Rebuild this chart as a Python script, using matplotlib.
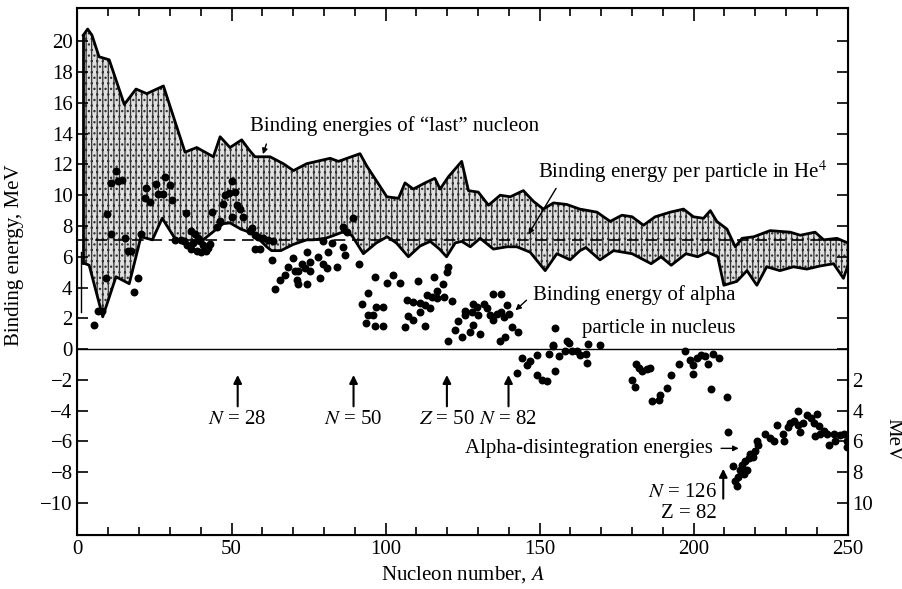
import matplotlib
matplotlib.use('Agg')
import matplotlib.pyplot as plt  # Plot stuff
from matplotlib.ticker import MultipleLocator

plt.rcParams['font.family'] = ['Liberation Serif', 'DejaVu Serif']
plt.rcParams['mathtext.fontset'] = 'stix'
plt.rcParams['hatch.linewidth'] = 0.9

# upper edge of the "last nucleon" band (A, MeV)
upper_A = [1.9, 3.3, 4.7, 7.0, 10.3, 15.2, 19.0, 22.5, 27.9, 34.9, 38.7, 44.1, 46.3, 49.5,
           53.3, 55.5, 57.6, 62.5, 66.8, 70.1, 74.4, 82.0, 84.7, 91.7, 93.9, 100.4, 104.2,
           106.3, 109.0, 112.8, 116.0, 117.7, 120.4, 124.7, 126.9, 130.1, 133.4, 137.2,
           140.5, 144.7, 148.0, 151.2, 154.5, 158.8, 163.0, 168.6, 172.9, 176.7, 180.0,
           183.7, 187.5, 192.4, 196.7, 199.9, 203.2, 205.4, 207.5, 210.8, 213.5, 215.7,
           219.5, 224.8, 231.3, 234.6, 239.4, 242.2, 246.5, 250.0]
upper_E = [20.4, 20.8, 20.4, 19.0, 18.8, 15.9, 16.9, 16.6, 17.1, 12.8, 13.1, 12.5, 13.8, 13.1,
           13.6, 13.0, 12.5, 12.5, 12.05, 11.6, 12.05, 12.4, 12.2, 12.7, 11.9, 9.9, 9.8,
           10.8, 10.4, 10.8, 11.1, 10.4, 11.2, 12.2, 10.3, 10.2, 9.35, 10.0,
           9.9, 10.3, 9.6, 9.1, 9.5, 9.4, 9.1, 8.9, 8.3, 8.7, 8.6,
           8.05, 8.6, 8.9, 9.1, 8.6, 8.5, 9.0, 8.3, 7.8, 6.65, 7.2,
           7.3, 7.7, 7.6, 7.4, 7.6, 7.1, 7.2, 6.9]

# lower edge of the band
lower_A = [1.9, 3.8, 8.2, 12.5, 16.8, 20.6, 24.3, 27.5, 31.6, 36.0, 40.0, 47.3, 49.5, 53.0,
           57.1, 61.4, 63.0, 66.0, 70.0, 74.4, 76.5, 80.4, 82.0, 86.0, 89.0, 92.8, 97.0,
           100.5, 103.5, 107.4, 111.2, 114.5, 117.5, 119.8, 122.6, 124.7, 127.5, 130.7,
           135.0, 139.4, 142.6, 146.9, 151.8, 155.6, 159.9, 163.1, 165.0, 169.6, 174.0,
           180.0, 186.2, 189.4, 192.7, 197.5, 201.3, 204.5, 207.8, 209.8, 214.0, 217.3,
           220.5, 223.7, 228.0, 232.4, 236.7, 241.0, 245.4, 248.6, 250.0]
lower_E = [5.6, 5.45, 2.1, 4.7, 4.25, 7.3, 7.1, 8.5, 7.2, 6.7, 6.97, 8.15, 8.2, 7.8,
           7.5, 6.65, 6.4, 6.4, 6.8, 7.1, 7.1, 7.2, 7.3, 7.6, 7.4, 6.2, 6.9,
           7.3, 6.9, 6.0, 6.7, 7.0, 6.5, 6.0, 6.9, 7.0, 6.65, 7.2,
           6.5, 6.65, 6.65, 6.3, 5.1, 6.2, 5.8, 6.4, 6.6, 5.8, 6.4,
           6.2, 5.55, 6.0, 5.45, 6.2, 6.0, 6.3, 6.0, 4.15, 4.4, 5.1,
           4.15, 5.35, 5.1, 5.35, 5.2, 5.4, 5.55, 4.6, 5.4]

# binding energy of alpha particle in nucleus (dots, upper part)
bind_A = [5.5, 6.6, 8.0, 9.4, 9.7, 11.0, 11.0, 12.6, 13.1, 14.4, 15.3, 16.4, 17.5, 18.4, 19.5,
          20.7, 22.3, 22.0, 23.6, 25.6, 26.1, 27.7, 28.5, 29.9, 30.8,
          31.5, 33.7, 34.5, 35.3, 35.6, 36.9, 37.0, 37.5, 38.3, 38.8, 39.1, 39.8, 40.0, 40.7,
          41.8, 42.5, 43.0,
          43.6, 45.2, 46.3, 47.3, 47.9, 49.3, 50.1, 51.1, 50.1, 51.7, 52.8, 53.8, 56.0, 56.6,
          57.6, 58.7, 60.3, 57.6, 59.3, 61.9, 63.6, 63.0,
          64.1, 65.7, 67.4, 68.4, 70.1, 70.6, 71.7, 71.2, 71.7, 72.8, 73.9, 74.4, 75.5, 74.4,
          75.5, 78.2, 78.7, 79.8, 80.9, 79.8, 81.4, 84.2, 82.5, 86.3, 86.9, 86.3, 87.4, 89.5,
          91.5,
          96.6, 102.3, 100.4, 104.7, 94.2, 92.3, 96.9, 99.1, 94.4, 96.0, 93.7, 96.6, 99.1,
          110.4, 115.8, 118.6, 120.4, 119.9, 116.8, 113.4, 115.0, 116.6, 118.8, 121.5, 107.1,
          109.0, 111.2, 112.8, 114.4, 111.2, 107.4, 108.8, 106.3, 112.8, 122.6, 120.4,
          124.7, 123.6, 125.8, 125.8, 128.0, 128.5, 129.6, 131.8, 132.9, 130.1, 135.0, 137.4,
          133.9, 135.0, 136.1, 137.4, 138.3, 139.3, 140.2, 141.0, 143.1, 138.8, 137.2, 127.4,
          130.7, 128.5, 155.0, 154.5, 158.8]
bind_E = [1.55, 2.5, 2.5, 4.6, 8.8, 7.5, 10.8, 11.6, 10.9, 11.0, 7.25, 6.4, 6.4, 3.7, 4.6,
          7.5, 10.5, 9.8, 9.55, 10.7, 10.1, 10.1, 11.2, 10.65, 9.7,
          7.1, 7.1, 7.0, 8.85, 6.75, 7.7, 6.5, 6.9, 7.5, 6.4, 7.2, 7.0, 6.3, 6.75,
          6.4, 6.6, 6.8,
          8.9, 7.95, 8.3, 9.4, 10.0, 10.15, 10.9, 10.2, 8.6, 9.35, 9.1, 8.6, 7.7, 7.9,
          7.4, 7.3, 7.2, 6.5, 6.5, 7.1, 7.0, 5.8,
          3.9, 4.5, 4.8, 5.35, 5.95, 5.1, 5.1, 4.5, 4.25, 5.55, 5.25, 6.3, 5.65, 4.25,
          5.1, 6.0, 4.6, 5.55, 5.25, 7.0, 6.3, 5.35, 6.9, 6.65, 6.1, 7.95, 7.6, 8.5,
          5.55,
          4.7, 4.8, 4.3, 4.3, 3.65, 2.95, 2.75, 2.75, 2.2, 2.2, 1.7, 1.5, 1.5,
          4.45, 4.7, 4.2, 5.35, 5.0, 3.8, 3.5, 3.4, 3.3, 3.4, 3.15, 3.2,
          3.05, 3.0, 2.85, 2.7, 2.4, 2.15, 1.9, 1.45, 1.5, 1.25, 0.5,
          0.8, 1.8, 2.2, 2.5, 2.4, 2.95, 2.75, 2.95, 2.65, 2.2, 3.6, 3.6,
          2.2, 1.9, 2.3, 2.4, 2.1, 2.85, 2.3, 1.45, 1.1, 0.8, 0.5, 1.1,
          1.0, 1.55, 1.35, 0.25, 0.5]

# alpha-disintegration energies (dots below zero)
dis_A = [142.6, 144.2, 145.8, 146.9, 149.1, 149.1, 150.7, 152.3, 152.9, 154.5, 155.0, 156.4,
         158.3, 159.4, 160.4, 162.1, 163.1, 165.1, 165.8, 165.5, 169.6,
         179.9, 181.0, 181.3, 182.1, 183.2, 184.8, 185.9, 186.4, 188.6, 189.1, 191.3, 192.7,
         195.1, 197.2, 198.9, 199.9, 199.9, 201.2, 202.3, 203.7, 204.5, 206.4, 205.6, 208.1,
         210.7, 211.2,
         212.7, 213.5, 214.0, 215.0, 216.2, 214.5, 215.6, 216.7, 217.8, 218.3, 219.4, 220.0,
         221.0, 220.5, 217.3, 223.2, 224.8, 226.1, 227.0, 229.0, 229.2, 230.5, 231.3, 233.7,
         232.4, 234.0, 234.6, 235.6, 236.8, 238.1, 239.1, 240.0, 240.7, 239.4, 241.1, 242.4,
         243.4, 243.8, 245.4, 246.0, 247.6, 248.9, 249.7, 249.7]
dis_E = [-1.55, -0.6, -1.05, -0.8, -0.4, -1.7, -2.0, -2.1, -0.3, 0.2, -1.4, -0.45,
         -0.1, 0.4, -0.1, -0.1, -0.4, -0.3, 0.3, -0.9, 0.25,
         -2.0, -2.45, -0.95, -1.25, -1.4, -1.3, -1.2, -3.4, -3.3, -3.0, -2.55, -1.7,
         -0.95, -0.1, -0.7, -1.05, -1.6, -0.6, -0.4, -0.45, -1.0, -0.3, -2.6, -0.6,
         -3.1, -5.4,
         -7.6, -8.6, -8.9, -7.85, -8.1, -8.3, -7.5, -7.3, -7.1, -6.8, -7.0, -6.65,
         -6.2, -6.0, -7.85, -5.5, -5.8, -6.0, -4.95, -5.5, -6.0, -5.05, -4.8, -4.05,
         -4.7, -4.95, -5.4, -4.8, -4.3, -4.5, -4.8, -4.2, -5.0, -5.65, -5.5, -5.3,
         -5.5, -6.2, -5.5, -6.0, -5.6, -5.5, -6.0, -6.35]

he4_per_particle = 7.07

# magic number arrows: (A position, label)
magic_A = [52.0, 89.6, 119.9, 139.9]
magic_labels = [r'$N$ = 28', r'$N$ = 50', r'$Z$ = 50', r'$N$ = 82']

fig = plt.figure(figsize=(9.03, 5.89), dpi=100)
ax = fig.add_axes([0.0858, 0.0917, 0.853, 0.894])

# the band, dotted/dashed shading like the book figure
poly_A = upper_A + lower_A[::-1]
poly_E = upper_E + lower_E[::-1]
ax.fill(poly_A, poly_E, facecolor='0.88', edgecolor='0.2', hatch='|||...', lw=0)
ax.plot(upper_A, upper_E, color='k', lw=2)
ax.plot(lower_A, lower_E, color='k', lw=2)
ax.plot([upper_A[0], lower_A[0]], [upper_E[0], lower_E[0]], color='k', lw=2)
ax.plot([1.1, 1.1], [2.4, 6.3], color='k', lw=1)

# He4 line and zero line
ax.axhline(he4_per_particle, color='k', lw=1.2, ls=(0, (7, 4)))
ax.axhline(0, color='k', lw=1)

ax.plot(bind_A, bind_E, 'o', color='k', ms=5.7, mec='none')
ax.plot(dis_A, dis_E, 'o', color='k', ms=5.7, mec='none')

fs = 15
ax.text(56.0, 14.5, 'Binding energies of \u201clast\u201d nucleon', fontsize=fs, va='center')
ax.annotate('', xy=(59.9, 12.5), xytext=(61.6, 13.5),
            arrowprops=dict(arrowstyle='-|>', color='k', lw=1, mutation_scale=8))
ax.text(149.5, 11.5, 'Binding energy per particle in He$^4$', fontsize=fs, va='center')
ax.annotate('', xy=(145.9, 7.3), xytext=(155.8, 10.6),
            arrowprops=dict(arrowstyle='-|>', color='k', lw=1, mutation_scale=8))
ax.text(213.5, 3.5, 'Binding energy of alpha', fontsize=fs, ha='right', va='center')
ax.text(213.5, 1.35, 'particle in nucleus', fontsize=fs, ha='right', va='center')
ax.annotate('', xy=(141.5, 2.4), xytext=(146.4, 3.3),
            arrowprops=dict(arrowstyle='-|>', color='k', lw=1, mutation_scale=8))

for a, lab in zip(magic_A, magic_labels):
    ax.annotate('', xy=(a, -1.5), xytext=(a, -3.9),
                arrowprops=dict(arrowstyle='-|>', color='k', lw=1.5, mutation_scale=12))
    ax.text(a, -4.55, lab, fontsize=fs, ha='center', va='center')

ax.text(206.3, -6.45, 'Alpha-disintegration energies', fontsize=fs, ha='right', va='center')
ax.annotate('', xy=(215.5, -6.45), xytext=(208.0, -6.45),
            arrowprops=dict(arrowstyle='-|>', color='k', lw=1, mutation_scale=8))
ax.annotate('', xy=(209.6, -7.6), xytext=(209.6, -9.9),
            arrowprops=dict(arrowstyle='-|>', color='k', lw=1.5, mutation_scale=12))
ax.text(207.6, -9.35, r'$N$ = 126', fontsize=fs, ha='right', va='center')
ax.text(207.6, -10.67, 'Z = 82', fontsize=fs, ha='right', va='center')

ax.set_xlim(0, 250)
ax.set_ylim(-12.08, 22.14)
ax.set_xticks(range(0, 251, 50))
ax.xaxis.set_minor_locator(MultipleLocator(10))
ax.set_yticks(range(-10, 21, 2))
ax.tick_params(which='major', direction='in', length=9, width=1.2, labelsize=fs, top=True)
ax.tick_params(which='minor', direction='in', length=6, width=1.2, top=True)
ax.tick_params(axis='y', which='major', length=8)
for s in ax.spines.values():
    s.set_linewidth(1.5)
ax.set_xlabel('Nucleon number, $A$', fontsize=fs)

# right side scale in MeV for the alpha energies
ax2 = ax.twinx()
ax2.set_ylim(ax.get_ylim())
ax2.set_yticks(range(-10, 21, 2))
ax2.set_yticklabels([str(-v) if v < 0 else '' for v in range(-10, 21, 2)])
ax2.tick_params(direction='in', length=8, width=1.2, labelsize=fs)

fig.text(15 / 903, 1 - 255 / 589, 'Binding energy, MeV', fontsize=fs, rotation=90,
         ha='center', va='center')
fig.text(893 / 903, 1 - 440 / 589, 'MeV', fontsize=fs, rotation=-90, ha='center', va='center')

fig.savefig('out.png', dpi=100)
